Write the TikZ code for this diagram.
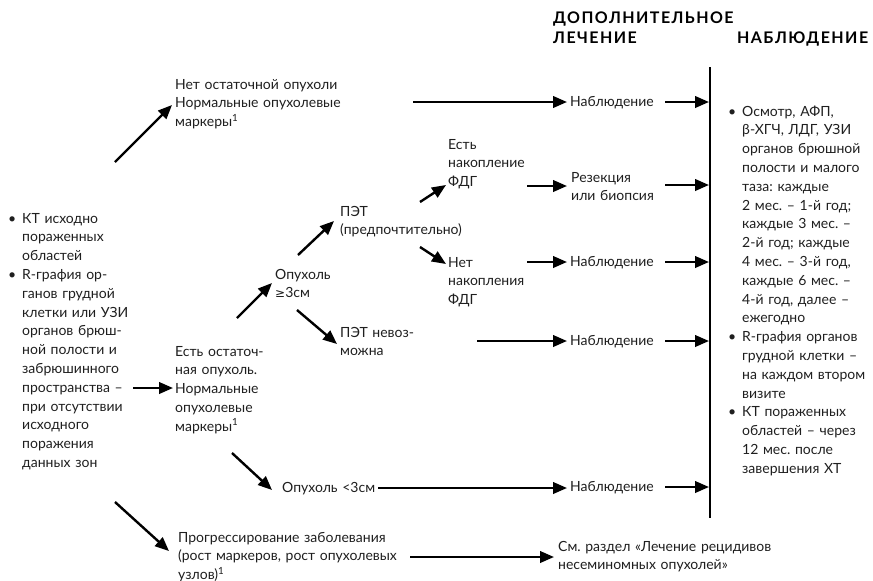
\documentclass[tikz,border=0pt]{standalone}
\usepackage{fontspec}
\setmainfont{Lato}
\newfontfamily\symf{DejaVu Sans}
\newfontfamily\hdrfont[LetterSpace=9]{Lato}
\usetikzlibrary{arrows.meta}
\begin{document}
\frenchspacing
\begin{tikzpicture}[x=1pt,y=-1pt,
  txt/.style={anchor=base west, inner sep=0pt, text width=260pt, align=left,
    font=\fontsize{14}{18.8}\selectfont\frenchspacing, text=black!88},
  hdr/.style={anchor=base west, inner sep=0pt, text width=260pt, align=left,
    font=\hdrfont\fontsize{16}{20}\selectfont\bfseries},
  arr/.style={line width=2.4pt, -{Triangle[length=14pt,width=11.5pt]}},
  vline/.style={line width=2.5pt}
]
\useasboundingbox[fill=white] (0,0) rectangle (873,581);
\newcommand{\bul}{\leavevmode\llap{\textbullet\hspace{6pt}}}
% headers
\node[hdr] (hdr1) at (553,23) {ДОПОЛНИТЕЛЬНОЕ\\ЛЕЧЕНИЕ};
\node[hdr] (hdr2) at (737,43) {НАБЛЮДЕНИЕ};
% left column
\node[txt] (left) at (22,223) {\bul КТ исходно\\пораженных\\областей\\\bul R-графия ор-\\ганов грудной\\клетки или УЗИ\\органов брюш-\\ной полости и\\забрюшинного\\пространства –\\при отсутствии\\исходного\\поражения\\данных зон};
% right column
\node[txt] (right) at (742,116) {\bul Осмотр, АФП,\\β-ХГЧ, ЛДГ, УЗИ\\органов брюшной\\полости и малого\\таза: каждые\\2 мес. – 1-й год;\\каждые 3 мес. –\\2-й год; каждые\\4 мес. – 3-й год,\\каждые 6 мес. –\\4-й год, далее –\\ежегодно\\\bul R-графия органов\\грудной клетки –\\на каждом втором\\визите\\\bul КТ пораженных\\областей – через\\12 мес. после\\завершения ХТ};
% middle nodes
\node[txt] (net) at (175,89) {Нет остаточной опухоли\\Нормальные опухолевые\\маркеры\textsuperscript{1}};
\node[txt] (nab1) at (570,106) {Наблюдение};
\node[txt] (estnak) at (448,149) {Есть\\накопление\\ФДГ};
\node[txt] (rez) at (571,182) {Резекция\\или биопсия};
\node[txt] (pet) at (340,216) {ПЭТ\\(предпочтительно)};
\node[txt] (netnak) at (448,267) {Нет\\накопления\\ФДГ};
\node[txt] (nab2) at (570,266) {Наблюдение};
\node[txt] (op3) at (275,279) {Опухоль\\{\symf\fontsize{12}{14}\selectfont ≥}3см};
\node[txt] (petno) at (340,337) {ПЭТ невоз-\\можна};
\node[txt] (nab3) at (570,345) {Наблюдение};
\node[txt] (ostat) at (175,356) {Есть остаточ-\\ная опухоль.\\Нормальные\\опухолевые\\маркеры\textsuperscript{1}};
\node[txt] (opless) at (282,492) {Опухоль <3см};
\node[txt] (nab4) at (570,491) {Наблюдение};
\node[txt] (progr) at (178,542) {Прогрессирование заболевания\\(рост маркеров, рост опухолевых\\узлов)\textsuperscript{1}};
\node[txt] (see) at (558,551) {См. раздел «Лечение рецидивов\\несеминомных опухолей»};
% vertical line
\coordinate (vt) at (710,67);
\coordinate (vb) at (710,518);
\draw[vline] (vt) -- (vb);
% arrow endpoints
\coordinate (a1s) at (115,162); \coordinate (a1e) at (172,105);
\coordinate (a2s) at (413,102); \coordinate (a2e) at (567,102);
\coordinate (a3s) at (665,102); \coordinate (a3e) at (709,102);
\coordinate (a4s) at (420,202); \coordinate (a4e) at (446,185);
\coordinate (a5s) at (527,186); \coordinate (a5e) at (567,186);
\coordinate (a6s) at (665,185); \coordinate (a6e) at (709,185);
\coordinate (a7s) at (420,247); \coordinate (a7e) at (446,264);
\coordinate (a8s) at (527,262); \coordinate (a8e) at (567,262);
\coordinate (a9s) at (665,262); \coordinate (a9e) at (709,262);
\coordinate (a10s) at (298,255); \coordinate (a10e) at (334,221);
\coordinate (a11s) at (237,318); \coordinate (a11e) at (272,283);
\coordinate (a12s) at (297,310); \coordinate (a12e) at (337,344);
\coordinate (a13s) at (477,341); \coordinate (a13e) at (567,341);
\coordinate (a14s) at (665,341); \coordinate (a14e) at (709,341);
\coordinate (a15s) at (133,388); \coordinate (a15e) at (173,388);
\coordinate (a16s) at (232,453); \coordinate (a16e) at (272,490);
\coordinate (a17s) at (378,488); \coordinate (a17e) at (567,488);
\coordinate (a18s) at (665,487); \coordinate (a18e) at (709,487);
\coordinate (a19s) at (115,502); \coordinate (a19e) at (169,551);
\coordinate (a20s) at (410,557); \coordinate (a20e) at (554,557);
\foreach \i in {1,...,20} {\draw[arr] (a\i s) -- (a\i e);}
\end{tikzpicture}
\end{document}
